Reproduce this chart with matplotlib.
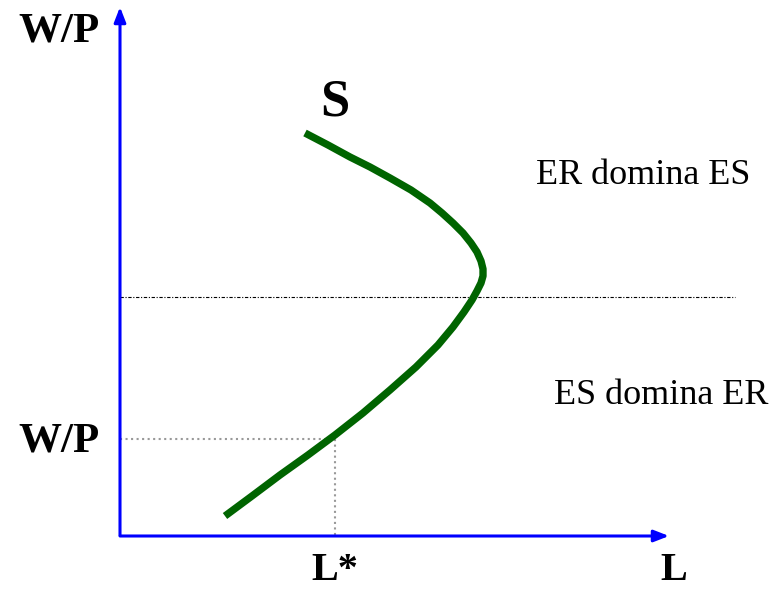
import matplotlib
matplotlib.use("Agg")
import matplotlib.pyplot as plt

# labour supply curve S (L, W/P) in axis units
supply_l = [105, 132, 160, 188, 215, 243, 270, 296, 318, 333, 344, 352, 357, 361, 363, 363, 361, 357, 351, 343, 333, 322, 310, 291, 270, 250, 230, 208, 185]
supply_w = [19, 39, 60, 80, 100, 122, 145, 168, 190, 208, 223, 235, 244, 252, 259, 266, 274, 283, 292, 302, 312, 322, 332, 345, 357, 368, 378, 390, 402]

threshold_w = 238      # where ER starts to dominate ES
eq_l, eq_w = 215, 96   # L* and W/P marks

FONT = "Liberation Serif"

fig = plt.figure(figsize=(7.74, 5.90), dpi=100)
ax = fig.add_axes([0, 0, 1, 1])
ax.set_xlim(-120, 654)
ax.set_ylim(-55, 535)
ax.axis("off")

# axes with arrow heads
ax.annotate("", xy=(0, 528), xytext=(0, 0),
            arrowprops=dict(arrowstyle="-|>,head_length=0.9,head_width=0.35",
                            color="blue", lw=2.2, shrinkA=0, shrinkB=0))
ax.annotate("", xy=(549, -1), xytext=(0, -1),
            arrowprops=dict(arrowstyle="-|>,head_length=0.9,head_width=0.35",
                            color="blue", lw=2.2, shrinkA=0, shrinkB=0))

# reference lines
ax.plot([0, 615], [threshold_w, threshold_w], color="black", lw=0.8, ls="-.",
        dashes=(3, 1.5, 1, 1.5))
ax.plot([0, eq_l], [eq_w, eq_w], color="#999999", lw=1.5, ls=":")
ax.plot([eq_l, eq_l], [0, eq_w], color="#999999", lw=1.5, ls=":")

ax.plot(supply_l, supply_w, color="#006400", lw=5.3, solid_capstyle="butt",
        solid_joinstyle="round")

ax.text(-61, 503, "W/P", fontsize=31, fontweight="bold", family=FONT, ha="center", va="center")
ax.text(-61, 93, "W/P", fontsize=31, fontweight="bold", family=FONT, ha="center", va="center")
ax.text(215, -36, "L*", fontsize=29, fontweight="bold", family=FONT, ha="center", va="center")
ax.text(554, -36, "L", fontsize=29, fontweight="bold", family=FONT, ha="center", va="center")
ax.text(215, 432, "S", fontsize=38, fontweight="bold", family=FONT, ha="center", va="center")
ax.text(523, 360, "ER domina ES", fontsize=26, family=FONT, ha="center", va="center")
ax.text(541, 140, "ES domina ER", fontsize=26, family=FONT, ha="center", va="center")

fig.savefig("out.png", dpi=100)
plt.close(fig)
